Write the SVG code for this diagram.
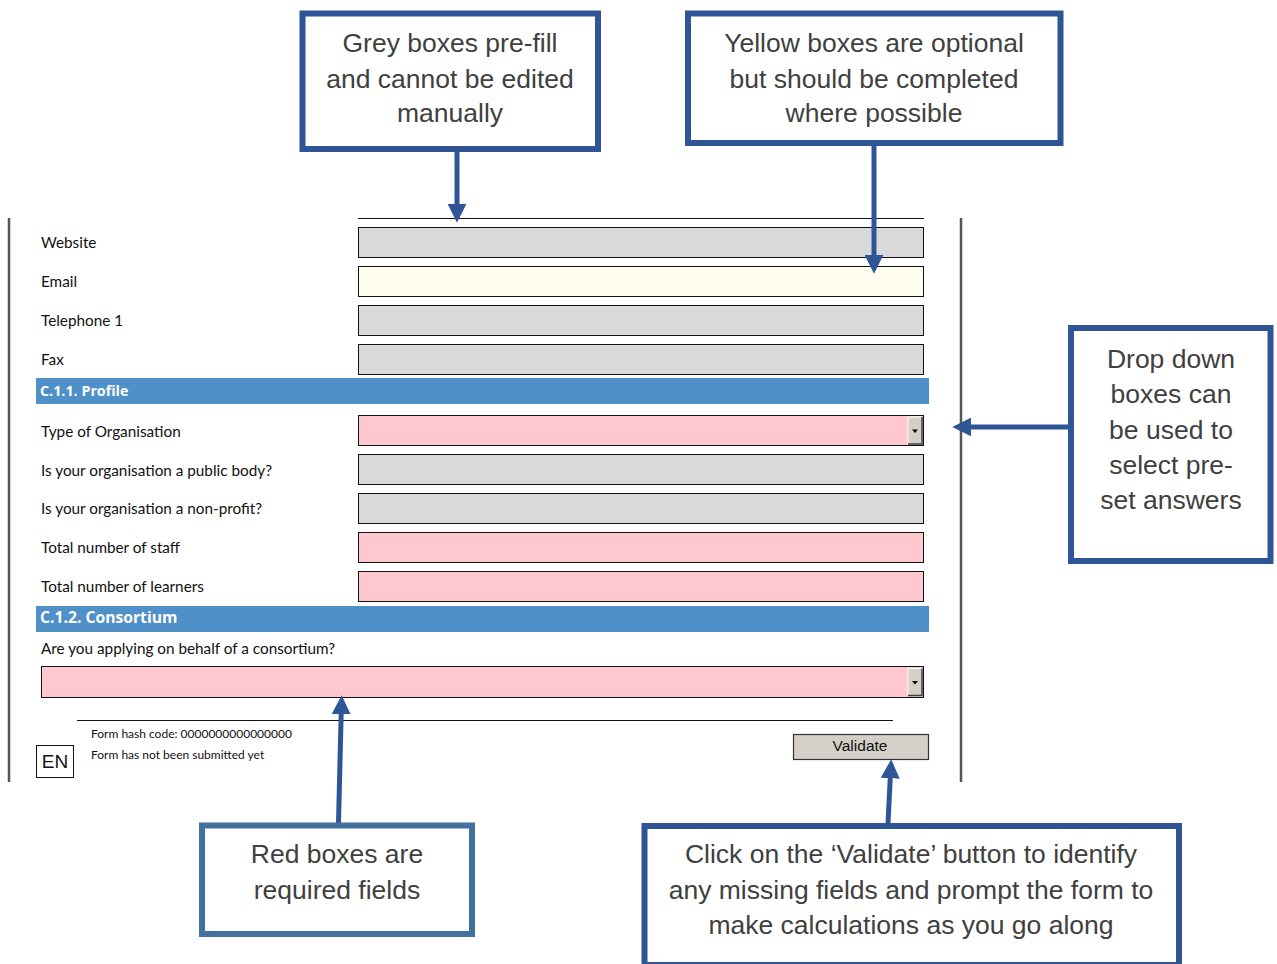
<svg xmlns="http://www.w3.org/2000/svg" width="1277" height="964" viewBox="0 0 1277 964">
<style>
.lbl{font-family:Lato,"Noto Sans",sans-serif;font-size:15.3px;fill:#111}
.hdr{font-family:"Open Sans","Noto Sans",sans-serif;font-weight:bold;font-size:14.3px;fill:#fff}
.small{font-family:Lato,"Noto Sans",sans-serif;font-size:12px;fill:#111}
.grey{fill:#D9D9D9;stroke:#111;stroke-width:1}
.yel{fill:#FFFDEE;stroke:#111;stroke-width:1}
.pink{fill:#FFC7CE;stroke:#111;stroke-width:1}
.bar{fill:#4F90C8}
.co{fill:#fff;stroke:#2F5597;stroke-width:6}
.co2{fill:#fff;stroke:#41719C;stroke-width:6}
.ct{font-family:"Liberation Sans",Arial,sans-serif;font-size:26.5px;fill:#404040;text-anchor:middle}
.conn{stroke:#2F5597;stroke-width:5;fill:none}
.side{stroke:#555;stroke-width:2.5}
</style>
<defs>
<marker id="ah" markerUnits="userSpaceOnUse" markerWidth="19" markerHeight="19" viewBox="0 0 18 18" refX="5" refY="9" orient="auto">
<path d="M0,0 L18,9 L0,18 z" fill="#2F5597"/>
</marker>
<g id="ddbtn">
<rect x="0" y="0" width="14" height="27" fill="#D4D0C8"/>
<path d="M0,27 V0 H14" stroke="#fff" stroke-width="1" fill="none"/>
<path d="M14,0 V27 H0" stroke="#404040" stroke-width="1.5" fill="none"/>
<path d="M4,12.5 L10,12.5 L7,16 z" fill="#000"/>
</g>
</defs>
<rect width="1277" height="964" fill="#fff"/>

<g id="form">
<line class="side" x1="9" y1="218" x2="9" y2="782"/>
<line class="side" x1="961" y1="218" x2="961" y2="782"/>
<line x1="358" y1="218.5" x2="924" y2="218.5" stroke="#111" stroke-width="1"/>

<g id="row-website"><text class="lbl" x="41" y="248">Website</text><rect class="grey" x="358.5" y="227.5" width="565" height="30"/></g>
<g id="row-email"><text class="lbl" x="41" y="287">Email</text><rect class="yel" x="358.5" y="266.5" width="565" height="30"/></g>
<g id="row-tel"><text class="lbl" x="41" y="326">Telephone 1</text><rect class="grey" x="358.5" y="305.5" width="565" height="30"/></g>
<g id="row-fax"><text class="lbl" x="41" y="365">Fax</text><rect class="grey" x="358.5" y="344.5" width="565" height="30"/></g>
<g id="hdr-profile"><rect class="bar" x="36" y="378" width="893" height="26"/><text class="hdr" x="40" y="396">C.1.1. Profile</text></g>
<g id="row-type"><text class="lbl" x="41" y="437">Type of Organisation</text><rect class="pink" x="358.5" y="415.5" width="565" height="30"/><use href="#ddbtn" x="908" y="417"/></g>
<g id="row-public"><text class="lbl" x="41" y="476">Is your organisation a public body?</text><rect class="grey" x="358.5" y="454.5" width="565" height="30"/></g>
<g id="row-nonprofit"><text class="lbl" x="41" y="514">Is your organisation a non-profit?</text><rect class="grey" x="358.5" y="493.5" width="565" height="30"/></g>
<g id="row-staff"><text class="lbl" x="41" y="553">Total number of staff</text><rect class="pink" x="358.5" y="532.5" width="565" height="30"/></g>
<g id="row-learners"><text class="lbl" x="41" y="592">Total number of learners</text><rect class="pink" x="358.5" y="571.5" width="565" height="30"/></g>
<g id="hdr-consortium"><rect class="bar" x="36" y="606" width="893" height="26"/><text class="hdr" x="40" y="623" style="font-size:15.7px">C.1.2. Consortium</text></g>
<g id="row-consortium"><text class="lbl" x="41" y="654">Are you applying on behalf of a consortium?</text><rect class="pink" x="41.5" y="666.5" width="882" height="31"/><use href="#ddbtn" x="908" y="668.5"/></g>
<line x1="77" y1="720.5" x2="893" y2="720.5" stroke="#111" stroke-width="1"/>
<text class="small" x="91" y="738">Form hash code: 0000000000000000</text>
<text class="small" x="91" y="759">Form has not been submitted yet</text>
<g id="en"><rect x="36.5" y="745.5" width="37" height="32" fill="#fff" stroke="#111" stroke-width="1"/><text x="55" y="768" font-family="Liberation Sans,Arial,sans-serif" font-size="19" text-anchor="middle" fill="#111">EN</text></g>
<g id="validate-btn"><rect x="793.5" y="734.5" width="135" height="25" fill="#D4D0C8" stroke="#333" stroke-width="1.2"/><text x="860" y="751" font-family="Liberation Sans,Arial,sans-serif" font-size="15.5" text-anchor="middle" fill="#111">Validate</text></g>
</g>

<g id="connectors">
<line class="conn" x1="457" y1="152" x2="457" y2="209" marker-end="url(#ah)"/>
<line class="conn" x1="874" y1="145" x2="874" y2="260" marker-end="url(#ah)"/>
<line class="conn" x1="1069" y1="427" x2="966" y2="427" marker-end="url(#ah)"/>
<line class="conn" x1="338.5" y1="823" x2="341.3" y2="709" marker-end="url(#ah)"/>
<line class="conn" x1="888" y1="823" x2="890.5" y2="773" marker-end="url(#ah)"/>
</g>

<g id="callout-grey"><rect class="co" x="302.5" y="13.5" width="295.5" height="135.5"/>
<text class="ct" x="450" y="52">Grey boxes pre-fill</text>
<text class="ct" x="450" y="87.5">and cannot be edited</text>
<text class="ct" x="450" y="122">manually</text></g>

<g id="callout-yellow"><rect class="co" x="688" y="13.5" width="372.5" height="129.5"/>
<text class="ct" x="874" y="52">Yellow boxes are optional</text>
<text class="ct" x="874" y="87.5">but should be completed</text>
<text class="ct" x="874" y="122">where possible</text></g>

<g id="callout-dropdown"><rect class="co" x="1071" y="328" width="199.5" height="233"/>
<text class="ct" x="1171" y="368">Drop down</text>
<text class="ct" x="1171" y="403">boxes can</text>
<text class="ct" x="1171" y="439">be used to</text>
<text class="ct" x="1171" y="474">select pre-</text>
<text class="ct" x="1171" y="509">set answers</text></g>

<g id="callout-red"><rect class="co2" x="202" y="825.5" width="270" height="108.5"/>
<text class="ct" x="337" y="863">Red boxes are</text>
<text class="ct" x="337" y="899">required fields</text></g>

<g id="callout-validate"><rect class="co" x="644.5" y="826" width="534.5" height="139"/>
<text class="ct" x="911" y="863">Click on the ‘Validate’ button to identify</text>
<text class="ct" x="911" y="899">any missing fields and prompt the form to</text>
<text class="ct" x="911" y="934">make calculations as you go along</text></g>
</svg>
